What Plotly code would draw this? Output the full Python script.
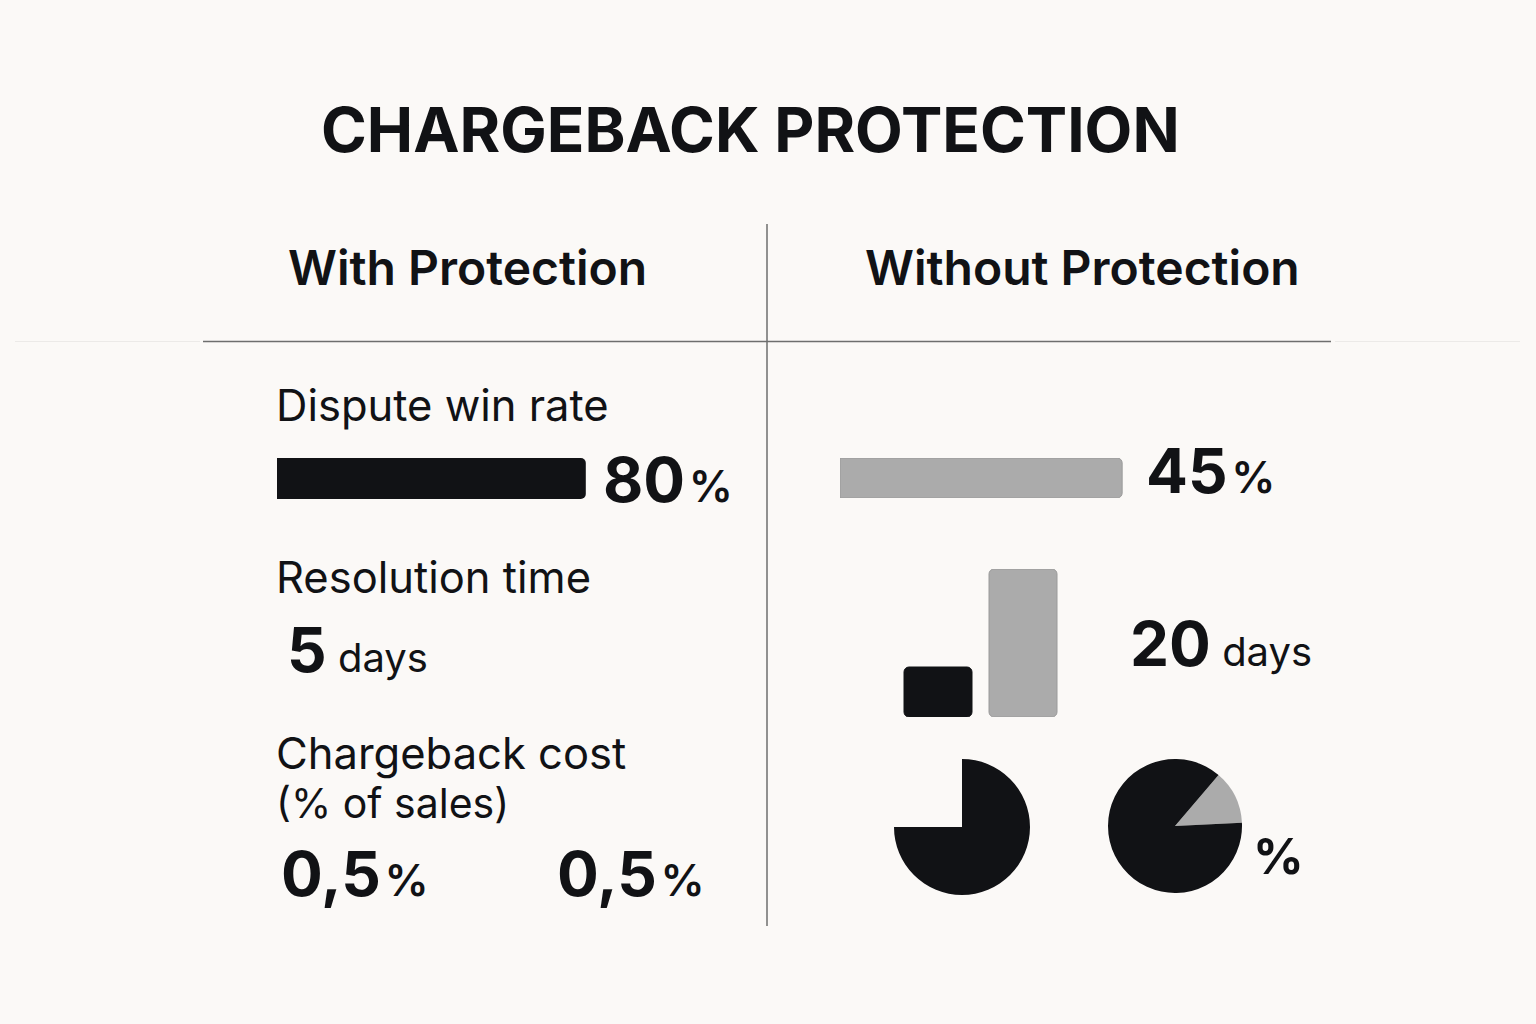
import plotly.graph_objects as go

# ---------------- data ----------------
title_text = "CHARGEBACK PROTECTION"
column_headers = ["With Protection", "Without Protection"]
metric_labels = ["Dispute win rate", "Resolution time", "Chargeback cost", "(% of sales)"]

win_rate_with = [80]        # %
win_rate_without = [45]     # %
resolution_days = [5, 20]   # with, without
cost_with_pct = ["0,5", "0,5"]
pie_with_values = [75, 25]      # filled share, empty share
pie_without_values = [13, 87]   # grey share, black share

# ---------------- style ----------------
W, H = 1536, 1024
BG = "#FBF9F7"
INK = "#111215"
GREY = "#ABABAB"
LINE = "#6E6E6E"
FONT = "Inter"


def px(x):
    return x / W


def py(y):
    return 1 - y / H


fig = go.Figure()

# horizontal bar: with protection
fig.add_trace(go.Bar(x=win_rate_with, y=[0], orientation="h", width=1,
                     marker=dict(color=INK, cornerradius=5, line=dict(width=0)),
                     xaxis="x", yaxis="y", hoverinfo="skip"))
# horizontal bar: without protection
fig.add_trace(go.Bar(x=win_rate_without, y=[0], orientation="h", width=1,
                     marker=dict(color=GREY, cornerradius=5, line=dict(width=1, color="#9A9A9A")),
                     xaxis="x2", yaxis="y2", hoverinfo="skip"))
# vertical bars: resolution time
bar_floor = -2.65
fig.add_trace(go.Bar(x=[0, 1], y=[d - bar_floor for d in resolution_days], base=bar_floor,
                     width=0.8,
                     marker=dict(color=[INK, GREY], cornerradius=5,
                                 line=dict(width=1, color=[INK, "#9A9A9A"])),
                     xaxis="x3", yaxis="y3", hoverinfo="skip"))
# pies
fig.add_trace(go.Pie(values=pie_with_values, sort=False, direction="clockwise", rotation=0,
                     marker=dict(colors=[INK, "rgba(0,0,0,0)"], line=dict(width=0)),
                     textinfo="none", hoverinfo="skip", showlegend=False,
                     domain=dict(x=[px(894), px(1030)], y=[py(895), py(759)])))
fig.add_trace(go.Pie(values=pie_without_values, sort=False, direction="clockwise", rotation=40.5,
                     marker=dict(colors=[GREY, INK], line=dict(width=0)),
                     textinfo="none", hoverinfo="skip", showlegend=False,
                     domain=dict(x=[px(1108), px(1242)], y=[py(893), py(759)])))

hidden = dict(visible=False, fixedrange=True)
fig.update_layout(
    width=W, height=H, margin=dict(l=0, r=0, t=0, b=0),
    paper_bgcolor=BG, plot_bgcolor="rgba(0,0,0,0)", showlegend=False,
    xaxis=dict(domain=[px(277), px(663)], range=[0, 100], **hidden),
    yaxis=dict(domain=[py(499), py(458)], range=[-0.5, 0.5], **hidden),
    xaxis2=dict(domain=[px(840), px(1467)], range=[0, 100], **hidden),
    yaxis2=dict(domain=[py(498), py(458)], range=[-0.5, 0.5], **hidden),
    xaxis3=dict(domain=[px(895.5), px(1065.5)], range=[-0.5, 1.5], **hidden),
    yaxis3=dict(domain=[py(717), py(569)], range=[bar_floor, 20], **hidden),
)

# lines
shapes = [
    dict(type="line", xref="paper", yref="paper", x0=px(767), x1=px(767), y0=py(224), y1=py(926),
         line=dict(color=LINE, width=1.5)),
    dict(type="line", xref="paper", yref="paper", x0=px(203), x1=px(1331), y0=py(341.5), y1=py(341.5),
         line=dict(color=LINE, width=1.5)),
    dict(type="line", xref="paper", yref="paper", x0=px(15), x1=px(200), y0=py(341.5), y1=py(341.5),
         line=dict(color="#ECEAE8", width=1)),
    dict(type="line", xref="paper", yref="paper", x0=px(1335), x1=px(1520), y0=py(341.5), y1=py(341.5),
         line=dict(color="#ECEAE8", width=1)),
]
fig.update_layout(shapes=shapes)


def ann(text, x, y, size, weight=400, xanchor="left"):
    fig.add_annotation(text=text, x=px(x), y=py(y), xref="paper", yref="paper",
                       xanchor=xanchor, yanchor="middle", showarrow=False, align="left",
                       font=dict(family=FONT, size=size, color=INK, weight=weight))


def big_pct(big, small_size=44):
    return (f"<b>{big}</b><span style='font-size:{small_size}px;font-weight:600'>"
            f"\u200a%</span>")


def big_days(big, small_size=40):
    return f"<b>{big}</b><span style='font-size:{small_size}px'> days</span>"


ann(f"<b>{title_text}</b>", 750.5, 129, 62, 700, xanchor="center")
ann(column_headers[0], 467.5, 267, 48, 600, xanchor="center")
ann(column_headers[1], 1082.5, 267, 48, 600, xanchor="center")

ann(metric_labels[0], 274, 405, 43.5)
ann(metric_labels[1], 274, 577, 43.5)
ann(metric_labels[2], 274, 753, 43.5)
ann(metric_labels[3], 274, 803, 41)

ann(big_pct(win_rate_with[0]), 601, 479, 62)
ann(big_pct(win_rate_without[0]), 1144, 470, 62)
ann(big_days(resolution_days[0]), 285, 649, 62)
ann(big_days(resolution_days[1]), 1128, 643, 62)
ann(big_pct(cost_with_pct[0]), 279, 873, 62)
ann(big_pct(cost_with_pct[1]), 555, 873, 62)
ann("<b>%</b>", 1251, 856, 50)

fig.write_html(
    "out.html",
    config=dict(displayModeBar=False, staticPlot=True),
    post_script=(
        "document.body.style.margin='0';"
        "document.body.style.background='" + BG + "';"
        "document.documentElement.style.overflow='hidden';"
    ),
)
